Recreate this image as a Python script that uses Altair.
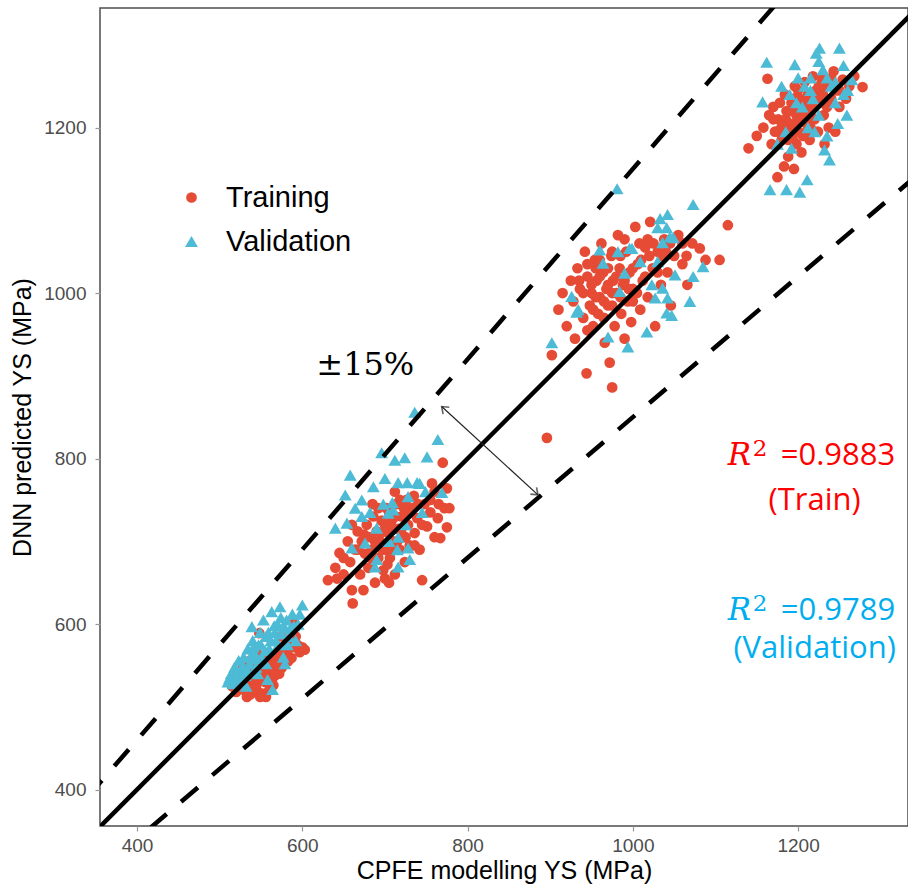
import altair as alt
import pandas as pd

# ---------------- data (MPa) ----------------
train_c1 = [(515,525),(520,518),(522,530),(525,540),(528,522),(530,535),(532,548),(535,528),(537,515),(538,545),
            (540,556),(542,532),(545,520),(546,540),(548,589),(550,552),(552,516),(553,545),(555,530),(557,560),
            (558,540),(560,520),(562,548),(564,535),(566,557),(568,545),(570,565),(572,540),(575,547),(578,560),
            (580,572),(583,555),(587,559),(590,601),(594,575),(597,566),(600,572),(603,569),(545,565),(535,555),
            (527,545),(518,535),(556,512),(565,526),(585,580),(575,585),
            (524,528),(530,520),(536,538),(541,548),(547,530),(551,538),(554,555),(559,548),(561,530),(567,538),
            (571,552),(573,560),(577,570),(582,563),(589,572),(592,585),(533,512),(543,524),(549,512),(563,557)]
train_c2 = [(631,653),(640,668),(645,686),(650,660),(655,700),(658,675),(660,641),(661,625),(664,690),(667,712),
            (670,660),(672,700),(674,641),(676,685),(678,720),(680,668),(682,705),(684,690),(686,730),(688,650),
            (690,712),(692,680),(694,700),(696,725),(698,665),(700,690),(702,740),(704,710),(706,680),(708,725),
            (710,700),(712,660),(714,745),(716,715),(718,690),(720,730),(722,705),(724,675),(726,750),(728,720),
            (730,695),(733,740),(736,710),(739,728),(742,690),(745,653),(748,745),(751,718),(755,735),(757,770),
            (760,705),(764,728),(767,704),(770,795),(772,740),(775,717),(775,764),(778,740),(700,655),(685,745),
            (712,760),(660,720),
            (690,695),(695,710),(700,720),(705,735),(710,715),(715,700),(720,715),(725,705),(730,735),(735,755),
            (740,745),(745,720),(683,680),(688,700),(697,690),(703,672),(708,690),(713,730),(718,750),(723,740),
            (755,750),(760,760),(765,745),(668,690),(675,708),(692,740),(705,650),(650,680),(642,655),(736,695)]
train_c3 = [(896,825),(902,925),(910,980),(915,1000),(920,960),(925,1015),(928,990),(930,945),(933,1030),(936,1005),
            (940,970),(942,1050),(944,903),(945,1020),(948,985),(950,1000),(952,960),(954,1040),(956,1015),(958,975),
            (960,995),(962,1060),(964,1025),(966,940),(968,1005),(970,985),(972,916),(974,1045),(975,886),(976,1015),
            (978,960),(980,1000),(982,1070),(984,1030),(986,975),(988,1010),(990,945),(992,1050),(994,990),(996,1025),
            (998,965),(1000,1005),(1003,1080),(1006,1035),(1009,980),(1012,1015),(1015,1055),(1018,995),(1021,1086),(1024,1030),
            (1027,960),(1030,1050),(1034,1010),(1038,1065),(1042,1025),(1046,985),(1050,1045),(1055,1070),(1060,1035),(1066,1010),
            (1072,1060),(1081,1054),(1088,1040),(1105,1040),(1115,1082),(960,1040),(945,955),(990,1065),
            (950,1010),(955,995),(960,1020),(965,990),(970,1010),(975,1000),(980,1020),(985,995),(990,1015),(995,1005),
            (1000,1030),(1005,1000),(1010,1040),(1015,1020),(1020,1045),(1025,1060),(1030,1025),(1035,1045),(1040,1050),(1045,1060),
            (955,1030),(965,970),(975,985),(985,1045),(1000,990),(940,1000),(935,1015),(945,1035),(952,980),(1060,1060),
            (1065,1045),(1018,1065),(1008,1060),(975,1050),(970,1030)]
train_c4 = [(1140,1175),(1150,1190),(1158,1200),(1163,1259),(1165,1215),(1168,1180),(1170,1225),(1172,1195),(1175,1140),(1176,1210),
            (1178,1230),(1180,1185),(1182,1205),(1184,1240),(1186,1220),(1188,1165),(1190,1200),(1192,1230),(1194,1185),(1196,1250),
            (1198,1215),(1200,1195),(1202,1235),(1204,1170),(1206,1220),(1208,1255),(1210,1205),(1212,1240),(1214,1185),(1216,1225),
            (1218,1262),(1220,1210),(1222,1245),(1224,1195),(1226,1230),(1228,1260),(1231,1215),(1234,1250),(1237,1200),(1240,1235),
            (1243,1268),(1246,1245),(1250,1225),(1254,1258),(1258,1235),(1262,1250),(1268,1262),(1278,1249),(1195,1150),(1183,1153),
            (1232,1180),(1245,1195),
            (1185,1210),(1190,1220),(1195,1205),(1200,1225),(1205,1210),(1210,1230),(1215,1215),(1220,1235),(1225,1250),(1230,1240),
            (1180,1200),(1175,1195),(1170,1210),(1195,1235),(1200,1245),(1210,1195),(1215,1200),(1188,1185),(1235,1225),(1240,1260),
            (1250,1245),(1198,1180),(1206,1190)]

val_c1 = [(510,530),(514,540),(518,548),(520,535),(523,556),(526,545),(529,560),(531,538),(534,570),(536,552),
          (539,597),(540,580),(542,565),(544,548),(547,575),(549,590),(551,560),(553,605),(556,585),(558,533),
          (560,570),(563,615),(564,521),(566,598),(568,580),(570,600),(573,621),(575,588),(577,560),(579,552),
          (581,605),(585,594),(588,612),(592,580),(595,600),(600,623),(582,575),(546,540),(532,525),(556,552),
          (512,535),(516,528),(521,542),(525,530),(528,550),(533,545),(537,560),(541,572),(545,558),(550,575),
          (555,568),(559,590),(562,580),(567,590),(571,575),(574,608),(578,597),(584,585),(590,598),(597,612)]
val_c2 = [(736,856),(764,823),(751,802),(724,801),(712,798),(696,807),(658,780),(700,776),(716,771),(727,771),
          (739,771),(686,766),(652,756),(672,750),(749,760),(769,759),(728,754),(709,747),(710,738),(672,730),
          (654,722),(640,716),(690,716),(704,734),(716,705),(676,698),(660,692),(715,690),(728,692),(690,678),
          (730,678),(688,669),(716,669),(742,770),(705,700),(682,735),(725,720),(698,745),(664,740),(745,735)]
val_c3 = [(902,940),(981,1126),(1073,1107),(1042,1095),(960,1052),(996,1054),(932,977),(970,947),(994,935),(1017,953),
          (1041,976),(1069,990),(1085,1032),(1073,1020),(1051,1022),(1036,1006),(1023,1010),(990,1024),(1009,1038),(1030,1038),
          (1030,1079),(1041,1079),(1049,1067),(1036,1061),(982,1050),(964,1036),(926,996),(934,980),(984,1002),(1027,994),
          (1042,994),(1047,973),(1033,1090),(1045,1068),(999,1054)]
val_c4 = [(1226,1296),(1250,1296),(1162,1279),(1196,1276),(1157,1231),(1166,1125),(1186,1125),(1202,1122),(1211,1137),(1259,1215),
          (1260,1245),(1238,1161),(1232,1173),(1222,1290),(1180,1250),(1190,1240),(1205,1225),(1215,1260),(1218,1235),(1200,1260),
          (1230,1270),(1240,1250),(1212,1200),(1185,1195),(1175,1180),(1225,1215),(1245,1230),(1265,1258),(1255,1275),(1248,1205),
          (1192,1175),(1235,1190),
          (1208,1250),(1215,1245),(1225,1280),(1235,1260),(1245,1255),(1255,1240),(1198,1230),(1220,1195)]

set_names = ["Training", "Validation"]
set_colors = ["#E64B35", "#4DBBD5"]
set_shapes = ["circle", "triangle-up"]
set_sizes = [115, 165]

x_ticks = [400, 600, 800, 1000, 1200]
y_ticks = [400, 600, 800, 1000, 1200]
x_domain = [355.2, 1333.0]
y_domain = [356.0, 1344.5]

ref_factors = [1.0, 1.15, 0.85]          # y = x, +15 %, -15 %
ref_x_ends = [340, 1360]

arrow_x = [768.7, 885.2]
arrow_y = [862.9, 756.1]
arrow_angles = [312.5, 132.5]

pm_label = ["±15%"]
pm_pos = [(617, 901)]

r2_values = ["=0.9883", "=0.9789"]
r2_names = ["(Train)", "(Validation)"]
r2_colors = ["#FF0000", "#00AEEF"]
r2_line1_y = [792.4, 605.1]
r2_line2_y = [738.0, 559.2]

# ---------------- frames ----------------
train = train_c1 + train_c2 + train_c3 + train_c4
val = val_c1 + val_c2 + val_c3 + val_c4
pts = pd.DataFrame({
    "x": [p[0] for p in train] + [p[0] for p in val],
    "y": [p[1] for p in train] + [p[1] for p in val],
    "set": [set_names[0]] * len(train) + [set_names[1]] * len(val),
})

rows = []
for f in ref_factors:
    for xe in ref_x_ends:
        rows.append({"x": xe, "y": xe * f, "k": str(f)})
ref = pd.DataFrame(rows)

xs = alt.Scale(domain=x_domain, nice=False, zero=False)
ys = alt.Scale(domain=y_domain, nice=False, zero=False)

xaxis = alt.Axis(values=x_ticks, format="d", title="CPFE modelling YS (MPa)", grid=False, domain=False,
                 tickColor="#999999", tickSize=5, tickWidth=1.2, labelPadding=5,
                 labelFont="Liberation Sans", labelFontSize=19, labelColor="#4D4D4D",
                 titleFont="Liberation Sans", titleFontSize=25, titleFontWeight="normal",
                 titleColor="#000000", titlePadding=3)
yaxis = alt.Axis(values=y_ticks, format="d", title="DNN predicted YS (MPa)", grid=False, domain=False,
                 tickColor="#999999", tickSize=5, tickWidth=1.2, labelPadding=9,
                 labelFont="Liberation Sans", labelFontSize=19, labelColor="#4D4D4D",
                 titleFont="Liberation Sans", titleFontSize=25, titleFontWeight="normal",
                 titleColor="#000000", titlePadding=8)

leg = alt.Legend(title=None, orient="none", legendX=77, legendY=175, padding=0,
                 labelFont="Liberation Sans", labelFontSize=29, labelColor="#000000",
                 symbolStrokeWidth=0, labelOffset=20, rowPadding=14)

points = alt.Chart(pts).mark_point(filled=True, opacity=1, strokeWidth=0).encode(
    x=alt.X("x:Q", scale=xs, axis=xaxis),
    y=alt.Y("y:Q", scale=ys, axis=yaxis),
    color=alt.Color("set:N", scale=alt.Scale(domain=set_names, range=set_colors), legend=leg),
    shape=alt.Shape("set:N", scale=alt.Scale(domain=set_names, range=set_shapes), legend=leg),
    size=alt.Size("set:N", scale=alt.Scale(domain=set_names, range=set_sizes), legend=leg),
)

solid = alt.Chart(ref[ref.k == "1.0"]).mark_line(color="black", strokeWidth=4.5, clip=True).encode(
    x=alt.X("x:Q", scale=xs), y=alt.Y("y:Q", scale=ys))
dashed = alt.Chart(ref[ref.k != "1.0"]).mark_line(color="black", strokeWidth=4.5, strokeDash=[22, 19],
                                                 clip=True).encode(
    x=alt.X("x:Q", scale=xs), y=alt.Y("y:Q", scale=ys), detail="k:N")

arr = pd.DataFrame({"x": [arrow_x[0]], "y": [arrow_y[0]], "x2": [arrow_x[1]], "y2": [arrow_y[1]]})
arrow_line = alt.Chart(arr).mark_rule(color="#222222", strokeWidth=1.2).encode(
    x=alt.X("x:Q", scale=xs), y=alt.Y("y:Q", scale=ys), x2="x2:Q", y2="y2:Q")
heads = pd.DataFrame({"x": arrow_x, "y": arrow_y, "a": arrow_angles})
arrow_heads = alt.Chart(heads).mark_point(shape="M-0.75,1L0,0L0.75,1", filled=False, size=150,
                                          color="#222222", strokeWidth=1.6).encode(
    x=alt.X("x:Q", scale=xs), y=alt.Y("y:Q", scale=ys),
    angle=alt.Angle("a:Q", scale=None))

pm = pd.DataFrame({"x": [p[0] for p in pm_pos], "y": [p[1] for p in pm_pos], "t": pm_label})
pm_text = alt.Chart(pm).mark_text(font="DejaVu Serif", fontSize=32, align="left", baseline="alphabetic",
                                  color="black").encode(
    x=alt.X("x:Q", scale=xs), y=alt.Y("y:Q", scale=ys), text="t:N")

r2 = pd.DataFrame({"y1": r2_line1_y, "y2": r2_line2_y, "v": r2_values, "n": r2_names, "c": r2_colors,
                   "xr": [1115, 1115], "xs": [1145, 1145], "xv": [1179, 1179], "xn": [1220, 1220],
                   "R": ["R", "R"], "two": ["2", "2"]})
base_r2 = alt.Chart(r2)
r_txt = base_r2.mark_text(font="DejaVu Serif", fontStyle="italic", fontSize=31, align="left",
                          baseline="alphabetic").encode(
    x=alt.X("xr:Q", scale=xs), y=alt.Y("y1:Q", scale=ys), text="R:N", color=alt.Color("c:N", scale=None))
sup_txt = base_r2.mark_text(font="DejaVu Serif", fontSize=23, align="left", baseline="alphabetic",
                            dy=-9).encode(
    x=alt.X("xs:Q", scale=xs), y=alt.Y("y1:Q", scale=ys), text="two:N", color=alt.Color("c:N", scale=None))
val_txt = base_r2.mark_text(font="Open Sans", fontSize=31, align="left", baseline="alphabetic").encode(
    x=alt.X("xv:Q", scale=xs), y=alt.Y("y1:Q", scale=ys), text="v:N", color=alt.Color("c:N", scale=None))
name_txt = base_r2.mark_text(font="Open Sans", fontSize=31, align="center", baseline="alphabetic").encode(
    x=alt.X("xn:Q", scale=xs), y=alt.Y("y2:Q", scale=ys), text="n:N", color=alt.Color("c:N", scale=None))

chart = alt.layer(points, solid, dashed, arrow_line, arrow_heads, pm_text, r_txt, sup_txt, val_txt,
                  name_txt).properties(
    width=808, height=818,
    autosize=alt.AutoSizeParams(type="none"),
    padding={"left": 100, "top": 8, "right": 0, "bottom": 60},
    background="white",
).configure_view(stroke="#4D4D4D", strokeWidth=1.5)

chart.save("out.html", embed_options={"renderer": "svg", "actions": False})
